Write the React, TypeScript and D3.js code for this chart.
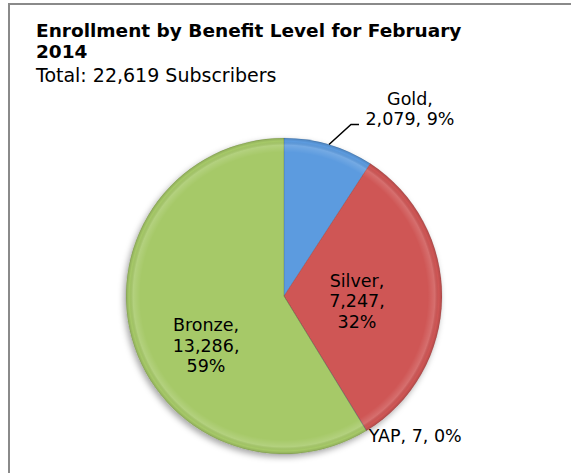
import React from "react";
import * as d3 from "d3";

const categories = ["Gold", "Silver", "YAP", "Bronze"];
const values = [2079, 7247, 7, 13286];
const percentLabels = ["9%", "32%", "0%", "59%"];
const colors = ["#5B9BDF", "#CF5655", "#8064A2", "#A6C968"];
const titleLines = ["Enrollment by Benefit Level for February", "2014"];
const subtitle = "Total: 22,619 Subscribers";

const W = 571;
const H = 473;
const cx = 284;
const cy = 296;
const R = 158;
const FONT = "'DejaVu Sans', Verdana, sans-serif";

export default function App() {
  const pie = d3.pie<number>().sort(null).value((d) => d)(values);
  const arc = d3.arc<d3.PieArcDatum<number>>().innerRadius(0).outerRadius(R);
  const fmt = d3.format(",");
  const deg = (r: number) => (r * 180) / Math.PI;

  const polar = (angDeg: number, dist: number) => {
    const a = (angDeg * Math.PI) / 180;
    return [cx + dist * Math.sin(a), cy - dist * Math.cos(a)];
  };

  const goldEdge = polar(deg((pie[0].startAngle + pie[0].endAngle) / 2), R);
  const silverPos = polar(deg((pie[1].startAngle + pie[1].endAngle) / 2), 73);
  const bronzePos = polar(240, 90);
  const yapPos = polar(deg(pie[2].startAngle), R);

  const fs = 17.5;
  const lh = 20.5;

  return (
    <svg
      width={W}
      height={H}
      style={{ position: "absolute", left: 0, top: 0, background: "#fff" }}
      fontFamily={FONT}
    >
      <defs>
        <filter id="shadow" x="-20%" y="-20%" width="140%" height="140%">
          <feDropShadow dx={-2} dy={3} stdDeviation={3} floodColor="#000" floodOpacity={0.35} />
        </filter>
        <radialGradient id="rim" gradientUnits="userSpaceOnUse" cx={0} cy={0} r={R}>
          <stop offset="0.91" stopColor="#fff" stopOpacity={0} />
          <stop offset="0.955" stopColor="#fff" stopOpacity={0.15} />
          <stop offset="0.98" stopColor="#000" stopOpacity={0} />
          <stop offset="1" stopColor="#000" stopOpacity={0.15} />
        </radialGradient>
      </defs>

      <line x1={8} y1={4} x2={W} y2={4} stroke="#8a8a8a" strokeWidth={2} />
      <line x1={9} y1={3} x2={9} y2={H} stroke="#8a8a8a" strokeWidth={2} />

      <text x={36} y={37} fontSize={18.5} fontWeight="bold" fill="#000">
        {titleLines[0]}
      </text>
      <text x={36} y={58} fontSize={18.5} fontWeight="bold" fill="#000">
        {titleLines[1]}
      </text>
      <text x={36} y={82} fontSize={19} fill="#000">
        {subtitle}
      </text>

      <g filter="url(#shadow)">
        {pie.map((d, i) => (
          <path key={i} d={arc(d) || ""} transform={`translate(${cx},${cy})`} fill={colors[i]} />
        ))}
      </g>
      {pie.map((d, i) => (
        <path
          key={"r" + i}
          d={arc(d) || ""}
          transform={`translate(${cx},${cy})`}
          fill="url(#rim)"
          stroke="rgba(0,0,0,0.1)"
          strokeWidth={0.8}
        />
      ))}

      <polyline
        points={`${goldEdge[0]},${goldEdge[1]} ${goldEdge[0] + 22},${goldEdge[1] - 20} ${goldEdge[0] + 30},${goldEdge[1] - 20}`}
        fill="none"
        stroke="#000"
        strokeWidth={1.5}
      />
      <text x={410} y={105} fontSize={fs} textAnchor="middle">
        {categories[0]},
      </text>
      <text x={410} y={125} fontSize={fs} textAnchor="middle">
        {fmt(values[0])}, {percentLabels[0]}
      </text>

      {[`${categories[1]},`, `${fmt(values[1])},`, percentLabels[1]].map((t, k) => (
        <text key={k} x={silverPos[0]} y={silverPos[1] - 10 + k * lh} fontSize={fs} textAnchor="middle">
          {t}
        </text>
      ))}

      {[`${categories[3]},`, `${fmt(values[3])},`, percentLabels[3]].map((t, k) => (
        <text key={k} x={bronzePos[0]} y={bronzePos[1] - 10 + k * lh} fontSize={fs} textAnchor="middle">
          {t}
        </text>
      ))}

      <text x={yapPos[0] + 2} y={yapPos[1] + 11} fontSize={fs}>
        {categories[2]}, {fmt(values[2])}, {percentLabels[2]}
      </text>
    </svg>
  );
}
